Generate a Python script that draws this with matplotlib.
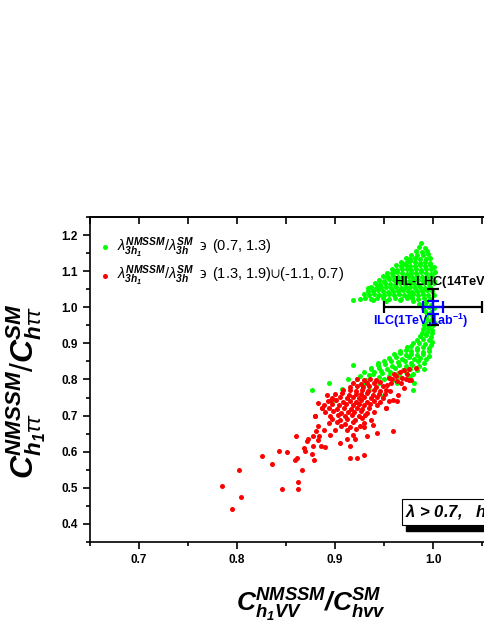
import numpy as np
import matplotlib
matplotlib.use("Agg")
import matplotlib.pyplot as plt
from matplotlib.patches import Rectangle

plt.rcParams['font.family'] = ['Liberation Sans', 'DejaVu Sans']
plt.rcParams['mathtext.fontset'] = 'custom'
plt.rcParams['mathtext.rm'] = 'Liberation Sans'
plt.rcParams['mathtext.it'] = 'Liberation Sans:italic'
plt.rcParams['mathtext.bf'] = 'Liberation Sans:bold'
plt.rcParams['mathtext.bfit'] = 'Liberation Sans:bold:italic'
plt.rcParams['mathtext.fallback'] = 'stixsans'

# green points: lambda ratio in (0.7, 1.3)
green_blob = [
    (0.988, 1.178), (0.986, 1.166), (0.992, 1.163),
    (0.983, 1.155), (0.989, 1.153), (0.994, 1.156),
    (0.978, 1.145), (0.984, 1.146), (0.990, 1.144), (0.995, 1.147),
    (0.972, 1.136), (0.977, 1.134), (0.982, 1.137), (0.987, 1.135), (0.993, 1.133), (0.997, 1.136),
    (0.967, 1.126), (0.972, 1.124), (0.977, 1.127), (0.982, 1.125), (0.987, 1.123), (0.992, 1.126), (0.997, 1.124),
    (0.962, 1.116), (0.967, 1.114), (0.972, 1.117), (0.977, 1.115), (0.982, 1.113), (0.987, 1.116), (0.992, 1.114), (0.997, 1.117), (1.001, 1.112),
    (0.958, 1.106), (0.963, 1.104), (0.968, 1.107), (0.973, 1.105), (0.978, 1.103), (0.983, 1.106), (0.988, 1.104), (0.993, 1.107), (0.998, 1.105),
    (0.953, 1.096), (0.958, 1.094), (0.963, 1.097), (0.968, 1.095), (0.973, 1.093), (0.978, 1.096), (0.983, 1.094), (0.988, 1.097), (0.993, 1.095), (0.998, 1.093), (1.002, 1.097),
    (0.949, 1.086), (0.954, 1.084), (0.959, 1.087), (0.964, 1.085), (0.969, 1.083), (0.974, 1.086), (0.979, 1.084), (0.984, 1.087), (0.989, 1.085), (0.994, 1.083), (0.999, 1.086),
    (0.945, 1.076), (0.950, 1.074), (0.955, 1.077), (0.960, 1.075), (0.965, 1.073), (0.970, 1.076), (0.975, 1.074), (0.980, 1.077), (0.985, 1.075), (0.990, 1.073), (0.995, 1.076), (1.001, 1.074),
    (0.941, 1.066), (0.946, 1.064), (0.951, 1.067), (0.956, 1.065), (0.961, 1.063), (0.966, 1.066), (0.971, 1.064), (0.976, 1.067), (0.981, 1.065), (0.986, 1.063), (0.991, 1.066), (0.996, 1.064), (1.001, 1.067),
    (0.937, 1.056), (0.942, 1.054), (0.947, 1.057), (0.952, 1.055), (0.957, 1.053), (0.962, 1.056), (0.967, 1.054), (0.972, 1.057), (0.977, 1.055), (0.982, 1.053), (0.987, 1.056), (0.992, 1.054), (0.997, 1.057),
    (0.934, 1.046), (0.939, 1.044), (0.944, 1.047), (0.949, 1.045), (0.954, 1.043), (0.959, 1.046), (0.964, 1.044), (0.969, 1.047), (0.974, 1.045), (0.979, 1.043), (0.984, 1.046), (0.989, 1.044), (0.994, 1.047), (0.999, 1.045),
    (0.930, 1.036), (0.935, 1.034), (0.940, 1.037), (0.945, 1.035), (0.950, 1.033), (0.955, 1.036), (0.960, 1.034), (0.965, 1.037), (0.970, 1.035), (0.975, 1.033), (0.980, 1.036), (0.985, 1.034), (0.990, 1.037), (0.995, 1.035), (1.001, 1.033),
    (0.925, 1.022), (0.931, 1.026), (0.937, 1.024), (0.943, 1.027), (0.949, 1.025), (0.955, 1.023), (0.961, 1.026), (0.967, 1.024), (0.973, 1.027), (0.979, 1.025), (0.985, 1.023), (0.991, 1.026), (0.997, 1.024),
    (0.939, 1.019), (0.952, 1.017), (0.966, 1.019), (0.980, 1.016), (0.993, 1.014),
    (0.944, 1.060), (0.953, 1.083), (0.961, 1.101), (0.970, 1.121), (0.975, 1.131), (0.918, 1.019), (0.934, 1.053),
]
green_band = [
    (0.986, 1.008), (0.992, 1.010), (0.998, 1.006),
    (0.990, 0.999), (0.996, 1.001), (1.001, 0.997),
    (0.992, 0.990), (0.998, 0.988), (0.994, 0.980), (0.999, 0.978),
    (0.993, 0.970), (0.999, 0.968), (0.992, 0.960), (0.997, 0.962), (1.001, 0.958),
    (0.991, 0.950), (0.996, 0.948), (1.000, 0.952), (0.990, 0.940), (0.995, 0.942), (0.999, 0.938),
    (0.989, 0.930), (0.994, 0.932), (0.999, 0.928), (0.987, 0.920), (0.993, 0.922), (0.998, 0.918),
    (0.984, 0.910), (0.990, 0.912), (0.996, 0.908), (0.999, 0.903),
    (0.980, 0.900), (0.986, 0.902), (0.992, 0.898), (0.998, 0.896),
    (0.973, 0.890), (0.978, 0.892), (0.984, 0.888), (0.990, 0.891), (0.996, 0.887),
    (0.966, 0.880), (0.972, 0.882), (0.978, 0.878), (0.984, 0.881), (0.990, 0.877), (0.996, 0.879),
    (0.960, 0.870), (0.966, 0.872), (0.972, 0.868), (0.978, 0.871), (0.984, 0.867), (0.990, 0.870), (0.996, 0.866),
    (0.955, 0.860), (0.962, 0.862), (0.968, 0.858), (0.975, 0.861), (0.981, 0.857), (0.987, 0.860), (0.993, 0.856),
    (0.950, 0.850), (0.957, 0.852), (0.964, 0.848), (0.971, 0.851), (0.978, 0.847), (0.985, 0.850), (0.991, 0.846),
    (0.944, 0.840), (0.951, 0.842), (0.958, 0.838), (0.965, 0.841), (0.972, 0.837), (0.979, 0.840), (0.986, 0.836),
    (0.937, 0.830), (0.945, 0.832), (0.953, 0.828), (0.961, 0.831), (0.969, 0.827), (0.977, 0.830), (0.984, 0.826), (0.991, 0.829),
    (0.930, 0.820), (0.940, 0.822), (0.948, 0.818), (0.956, 0.821), (0.964, 0.817), (0.972, 0.820), (0.980, 0.816),
    (0.925, 0.810), (0.935, 0.812), (0.945, 0.808), (0.955, 0.811), (0.966, 0.807), (0.976, 0.810),
    (0.913, 0.800), (0.922, 0.802), (0.932, 0.798), (0.950, 0.801), (0.962, 0.797), (0.975, 0.800), (0.981, 0.790),
    (0.894, 0.790), (0.930, 0.788), (0.945, 0.791), (0.963, 0.790), (0.980, 0.772),
    (0.876, 0.770), (0.907, 0.774), (0.935, 0.772), (0.949, 0.754), (0.900, 0.744),
    (0.918, 0.839), (0.937, 0.832), (0.944, 0.846), (0.947, 0.823), (0.939, 0.814),
]

# red points: lambda ratio in (1.3, 1.9) U (-1.1, 0.7)
red_core = [
    (0.922, 0.800), (0.930, 0.798), (0.936, 0.801), (0.942, 0.799),
    (0.918, 0.790), (0.926, 0.788), (0.933, 0.791), (0.940, 0.789), (0.946, 0.792),
    (0.915, 0.780), (0.922, 0.782), (0.929, 0.778), (0.935, 0.781), (0.942, 0.779), (0.949, 0.782),
    (0.908, 0.770), (0.915, 0.772), (0.921, 0.768), (0.928, 0.771), (0.934, 0.769), (0.940, 0.772), (0.946, 0.768), (0.952, 0.771),
    (0.900, 0.760), (0.907, 0.762), (0.914, 0.758), (0.921, 0.761), (0.927, 0.759), (0.933, 0.762), (0.939, 0.758), (0.945, 0.761), (0.951, 0.759),
    (0.897, 0.750), (0.905, 0.752), (0.912, 0.748), (0.918, 0.751), (0.924, 0.749), (0.930, 0.752), (0.937, 0.748), (0.943, 0.751), (0.949, 0.749),
    (0.893, 0.740), (0.901, 0.742), (0.908, 0.738), (0.915, 0.741), (0.921, 0.739), (0.927, 0.742), (0.933, 0.738), (0.940, 0.741), (0.946, 0.739), (0.955, 0.740), (0.963, 0.740),
    (0.889, 0.730), (0.897, 0.732), (0.904, 0.728), (0.911, 0.731), (0.918, 0.729), (0.924, 0.732), (0.930, 0.728), (0.936, 0.731), (0.943, 0.729),
    (0.887, 0.720), (0.894, 0.722), (0.902, 0.718), (0.909, 0.721), (0.916, 0.719), (0.922, 0.722), (0.928, 0.718), (0.935, 0.721), (0.952, 0.720),
    (0.890, 0.710), (0.898, 0.712), (0.906, 0.708), (0.913, 0.711), (0.919, 0.709), (0.926, 0.712), (0.933, 0.708), (0.940, 0.711),
    (0.880, 0.700), (0.895, 0.698), (0.903, 0.701), (0.910, 0.699), (0.917, 0.702), (0.924, 0.698), (0.931, 0.701),
    (0.897, 0.690), (0.905, 0.688), (0.912, 0.691), (0.920, 0.689), (0.928, 0.692), (0.937, 0.688),
    (0.894, 0.680), (0.902, 0.682), (0.910, 0.678), (0.918, 0.681), (0.930, 0.679), (0.939, 0.675),
    (0.883, 0.672), (0.906, 0.670), (0.915, 0.668), (0.925, 0.671), (0.930, 0.669),
    (0.889, 0.660), (0.900, 0.661), (0.912, 0.659), (0.921, 0.662), (0.943, 0.652), (0.959, 0.657),
    (0.958, 0.800), (0.962, 0.810), (0.966, 0.820), (0.970, 0.825), (0.973, 0.815), (0.968, 0.805),
    (0.963, 0.795), (0.957, 0.790), (0.972, 0.800), (0.975, 0.828), (0.960, 0.815), (0.955, 0.805),
    (0.967, 0.790), (0.953, 0.785), (0.978, 0.798), (0.983, 0.832), (0.956, 0.767), (0.959, 0.744),
    (0.964, 0.756), (0.970, 0.777), (0.975, 0.798), (0.952, 0.720),
]
red_outliers = [
    (0.825, 0.587), (0.836, 0.566), (0.843, 0.601), (0.851, 0.600), (0.846, 0.498),
    (0.862, 0.498), (0.862, 0.516), (0.866, 0.548), (0.860, 0.643), (0.861, 0.583),
    (0.859, 0.576), (0.868, 0.611), (0.871, 0.629), (0.869, 0.603), (0.877, 0.595),
    (0.878, 0.615), (0.879, 0.578), (0.878, 0.643), (0.883, 0.632), (0.886, 0.615),
    (0.890, 0.613), (0.905, 0.624), (0.912, 0.636), (0.915, 0.615), (0.915, 0.583),
    (0.922, 0.583), (0.930, 0.592), (0.920, 0.634), (0.918, 0.647), (0.933, 0.643),
    (0.895, 0.647), (0.883, 0.735), (0.887, 0.720), (0.892, 0.758), (0.896, 0.742),
    (0.872, 0.634), (0.802, 0.548), (0.785, 0.504), (0.804, 0.475), (0.795, 0.442),
    (0.880, 0.698), (0.881, 0.656), (0.884, 0.643),
]

# measurement precision (center x, center y, x error, y error)
hllhc = (1.0, 1.0, 0.05, 0.05)
ilc = (1.0, 1.0, 0.01, 0.018)

fig = plt.figure(figsize=(4.85, 6.27), dpi=100)
ax = fig.add_axes([0.1856, 0.1356, 0.9093, 0.5183])

gx, gy = zip(*(green_blob + green_band))
rx, ry = zip(*(red_core + red_outliers))
lam = r'$\lambda^{\mathbfit{NMSSM}}_{\mathbfit{3h_1}}/\lambda^{\mathbfit{SM}}_{\mathbfit{3h}}\ \backepsilon$'
lab_g = lam + ' (0.7, 1.3)'
lab_r = lam + r' (1.3, 1.9)$\cup$(-1.1, 0.7)'
ax.scatter(gx, gy, s=13, c='#00ff00', linewidths=0, label=lab_g, zorder=2)
ax.scatter(rx, ry, s=13, c='#ff0000', linewidths=0, label=lab_r, zorder=3)

ax.errorbar([hllhc[0]], [hllhc[1]], xerr=[hllhc[2]], yerr=[hllhc[3]], color='black',
            lw=1.6, capsize=4, capthick=1.6, zorder=4)
ax.errorbar([ilc[0]], [ilc[1]], xerr=[ilc[2]], yerr=[ilc[3]], color='#0000ff',
            lw=1.6, capsize=4, capthick=1.6, zorder=5)
ax.text(0.960, 1.071, r'HL-LHC(14TeV,3ab$^{\mathbf{-1}}$)', fontsize=9.3, fontweight='bold',
        color='black', va='center', ha='left', zorder=6)
ax.text(0.9385, 0.961, r'ILC(1TeV,1ab$^{\mathbf{-1}}$)', fontsize=9, fontweight='bold',
        color='#0000ff', va='center', ha='left', zorder=6)

# boxed note with shadow
ax.add_patch(Rectangle((0.972, 0.380), 0.13, 0.085, facecolor='black', edgecolor='black', zorder=6))
ax.add_patch(Rectangle((0.968, 0.397), 0.13, 0.073, facecolor='white', edgecolor='black', lw=0.8, zorder=7))
ax.text(0.971, 0.434, r'$\mathbfit{\lambda}$ > 0.7,   $\mathbfit{h_1^{singlet}}$', fontsize=12,
        fontweight='bold', fontstyle='italic', va='center', ha='left', zorder=8)

ax.set_xlim(0.65, 1.1)
ax.set_ylim(0.35, 1.25)
ax.set_xticks([0.7, 0.8, 0.9, 1.0, 1.1])
ax.set_xticks(np.arange(0.65, 1.1, 0.05), minor=True)
ax.set_yticks([0.4, 0.5, 0.6, 0.7, 0.8, 0.9, 1.0, 1.1, 1.2])
ax.set_yticks(np.arange(0.35, 1.26, 0.05), minor=True)
ax.xaxis.set_major_formatter(plt.FormatStrFormatter('%.1f'))
ax.yaxis.set_major_formatter(plt.FormatStrFormatter('%.1f'))
ax.tick_params(which='major', direction='out', length=5, width=1.2, labelsize=8.5, pad=4)
ax.tick_params(which='minor', direction='out', length=3, width=1.2)
for lb in ax.get_xticklabels() + ax.get_yticklabels():
    lb.set_fontweight('bold')
for sp in ax.spines.values():
    sp.set_linewidth(1.2)

top = ax.secondary_xaxis('top')
top.set_xticks([0.7, 0.8, 0.9, 1.0, 1.1])
top.set_xticks(np.arange(0.65, 1.1, 0.05), minor=True)
top.tick_params(which='both', direction='in', length=5, width=1.2, labeltop=False)
top.spines['top'].set_linewidth(1.2)

ax.set_xlabel(r'$\mathbfit{C^{NMSSM}_{h_1VV}/C^{SM}_{hvv}}$', fontsize=19, labelpad=15)
ax.set_ylabel(r'$\mathbfit{C}^{\mathbfit{NMSSM}}_{\mathbfit{h_1}\tau\tau}/\mathbfit{C}^{\mathbfit{SM}}_{\mathbfit{h}\tau\tau}$',
              fontsize=23)
ax.yaxis.set_label_coords(-0.095, 0.465)

ax.legend(loc='upper left', bbox_to_anchor=(-0.015, 0.975), frameon=False, fontsize=10.5,
          handletextpad=0.1, handlelength=1.5, markerscale=1.0, labelspacing=0.3, borderaxespad=0.3)

fig.savefig('out.png', dpi=100)
